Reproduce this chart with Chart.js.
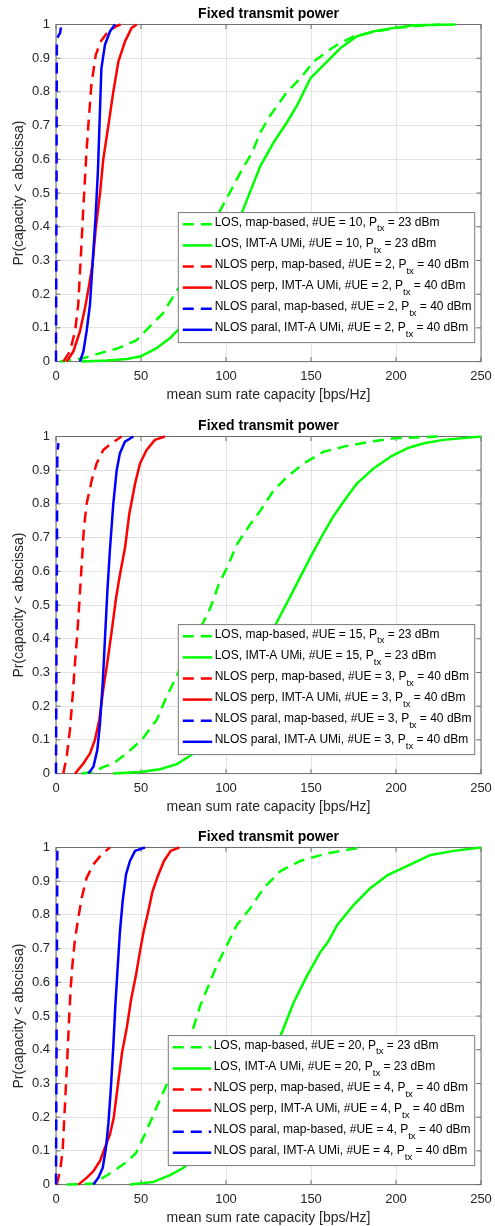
<!DOCTYPE html>
<html>
<head>
<meta charset="utf-8">
<script src="https://cdn.jsdelivr.net/npm/chart.js@4.4.0/dist/chart.umd.min.js"></script>
<style>
  body { margin: 0; overflow: hidden; background: #fff; }
  #wrap { position: relative; width: 495px; height: 1226px; }
  canvas { position: absolute; left: 0; }
</style>
</head>
<body>
<div id="wrap">
  <canvas id="g1" width="495" height="404" style="top:0px"></canvas>
  <canvas id="g2" width="495" height="404" style="top:412px"></canvas>
  <canvas id="g3" width="495" height="404" style="top:823px"></canvas>
</div>
<script>
// ejes
const xTicks = [0, 50, 100, 150, 200, 250];
const yTicks = [0, 0.1, 0.2, 0.3, 0.4, 0.5, 0.6, 0.7, 0.8, 0.9, 1];
const yTickLabels = ['0', '0.1', '0.2', '0.3', '0.4', '0.5', '0.6', '0.7', '0.8', '0.9', '1'];

// leyendas (P_{tx} -> subindice)
const legend1 = [
  'LOS, map-based, #UE = 10, P_{tx} = 23 dBm',
  'LOS, IMT-A UMi, #UE = 10, P_{tx} = 23 dBm',
  'NLOS perp, map-based, #UE = 2, P_{tx} = 40 dBm',
  'NLOS perp, IMT-A UMi, #UE = 2, P_{tx} = 40 dBm',
  'NLOS paral, map-based, #UE = 2, P_{tx} = 40 dBm',
  'NLOS paral, IMT-A UMi, #UE = 2, P_{tx} = 40 dBm'
];
const legend2 = [
  'LOS, map-based, #UE = 15, P_{tx} = 23 dBm',
  'LOS, IMT-A UMi, #UE = 15, P_{tx} = 23 dBm',
  'NLOS perp, map-based, #UE = 3, P_{tx} = 40 dBm',
  'NLOS perp, IMT-A UMi, #UE = 3, P_{tx} = 40 dBm',
  'NLOS paral, map-based, #UE = 3, P_{tx} = 40 dBm',
  'NLOS paral, IMT-A UMi, #UE = 3, P_{tx} = 40 dBm'
];
const legend3 = [
  'LOS, map-based, #UE = 20, P_{tx} = 23 dBm',
  'LOS, IMT-A UMi, #UE = 20, P_{tx} = 23 dBm',
  'NLOS perp, map-based, #UE = 4, P_{tx} = 40 dBm',
  'NLOS perp, IMT-A UMi, #UE = 4, P_{tx} = 40 dBm',
  'NLOS paral, map-based, #UE = 4, P_{tx} = 40 dBm',
  'NLOS paral, IMT-A UMi, #UE = 4, P_{tx} = 40 dBm'
];

// CDF, grafica 1: [capacidad, Pr]
const los10Map = [[2.4,0],[16,0.01],[26,0.025],[36.7,0.04],[47.5,0.064],[54.4,0.1],[63,0.144],[71,0.21],[80.9,0.27],[86.8,0.32],[94.6,0.43],[100.5,0.485],[108.4,0.56],[115.3,0.62],[120.2,0.68],[126,0.73],[135.9,0.8],[143.7,0.84],[151.6,0.89],[159.5,0.92],[165.4,0.94],[175.2,0.965],[188.9,0.98],[200.7,0.99],[218,0.998],[226,1]];
const los10Umi = [[15,0],[30,0.003],[41.6,0.008],[49.5,0.015],[59.3,0.04],[67.1,0.07],[73,0.1],[80.9,0.15],[90.7,0.23],[100.5,0.33],[108.4,0.43],[114.3,0.505],[120.2,0.58],[128,0.65],[135.9,0.71],[141.8,0.76],[149.6,0.84],[157.5,0.88],[167.3,0.93],[177.1,0.965],[187,0.98],[198.8,0.99],[210.5,0.998],[235,1]];
const perp2Map = [[4.3,0],[8.2,0.03],[11.2,0.09],[13.1,0.17],[14.8,0.33],[15.8,0.43],[16.8,0.52],[17.9,0.62],[19.3,0.72],[20.8,0.82],[23.4,0.91],[26.4,0.95],[30.8,0.98],[35.7,0.995],[38,1]];
const perp2Umi = [[6.3,0],[10.2,0.03],[14.1,0.09],[17.1,0.16],[19.6,0.23],[21.5,0.29],[23.3,0.39],[25.9,0.5],[27.8,0.6],[30.8,0.7],[33.7,0.8],[36.7,0.89],[40.6,0.95],[44.5,0.99],[47.5,1]];
const paral2Map = [[0,0],[0.3,0.5],[0.5,0.95],[1.2,0.965],[2.4,0.975],[3.2,1]];
const paral2Umi = [[14.1,0],[16.1,0.03],[18,0.09],[20,0.17],[21.5,0.29],[23.3,0.43],[24.7,0.57],[25.7,0.72],[26.7,0.87],[28.8,0.94],[31.8,0.98],[34.7,1]];

// grafica 2
const los15Map = [[15.1,0],[21.9,0.005],[28,0.02],[33.7,0.03],[41.6,0.06],[50.4,0.1],[59.3,0.16],[65.2,0.23],[71.1,0.29],[77.9,0.37],[84.8,0.43],[90.7,0.49],[95.6,0.56],[100.5,0.61],[106.4,0.68],[114.3,0.74],[120.2,0.78],[128,0.84],[135.9,0.88],[145.7,0.92],[157.5,0.955],[169.3,0.97],[185,0.985],[198.8,0.995],[226,1]];
const los15Umi = [[33.7,0],[49.5,0.005],[61.2,0.013],[71.1,0.028],[78.9,0.053],[90.7,0.097],[100.5,0.15],[112,0.24],[121,0.34],[129,0.44],[139.8,0.545],[150,0.645],[157,0.71],[163.4,0.765],[171.3,0.822],[177.1,0.861],[187,0.906],[196.8,0.94],[206.6,0.965],[216.4,0.98],[228,0.99],[250,1]];
const perp3Map = [[4.3,0],[6.3,0.05],[8.2,0.13],[9.8,0.23],[11.2,0.33],[12.6,0.42],[13.9,0.52],[15.1,0.62],[16.3,0.72],[18,0.8],[21,0.87],[23.9,0.92],[27.8,0.96],[32.7,0.98],[38.6,1]];
const perp3Umi = [[11.2,0],[16.1,0.03],[20,0.06],[22.9,0.1],[25.5,0.16],[27.8,0.25],[30.2,0.33],[32.7,0.42],[35.3,0.52],[37.6,0.59],[40.6,0.67],[43.1,0.77],[46.5,0.86],[49.4,0.92],[53.3,0.96],[58.2,0.99],[64.1,1]];
const paral3Map = [[0,0],[0.4,0.5],[0.8,0.95],[1.4,0.98]];
const paral3Umi = [[19,0],[22,0.02],[24.3,0.07],[25.9,0.15],[27.5,0.27],[28.8,0.4],[30.2,0.54],[31.8,0.67],[33.7,0.8],[35.7,0.9],[37.6,0.95],[40.6,0.985],[45.5,1]];

// grafica 3
const los20Map = [[6.3,0],[22,0.003],[30.8,0.03],[41.6,0.067],[47.1,0.094],[53.3,0.16],[59.2,0.23],[64.1,0.285],[72,0.37],[79.9,0.45],[84.8,0.53],[89.7,0.59],[94.6,0.65],[100.5,0.71],[106.4,0.77],[114.3,0.82],[122.2,0.88],[132,0.93],[143.7,0.96],[157.5,0.98],[173.2,0.995],[181,1]];
const los20Umi = [[43.5,0],[57.3,0.008],[67.1,0.028],[75,0.05],[85,0.1],[100,0.19],[115,0.3],[132,0.44],[139.8,0.54],[147.7,0.62],[155.5,0.69],[160,0.72],[165.4,0.77],[175.2,0.83],[185,0.88],[195,0.918],[208.6,0.95],[220.4,0.978],[234,0.99],[250,1]];
const perp4Map = [[0.4,0],[2.4,0.04],[3.9,0.1],[4.7,0.18],[5.7,0.28],[6.7,0.38],[7.6,0.48],[8.6,0.58],[9.8,0.66],[11.2,0.73],[13.1,0.79],[15.1,0.85],[18,0.91],[22,0.95],[26.9,0.98],[31.8,1]];
const perp4Umi = [[13.1,0],[18,0.02],[22,0.04],[25.9,0.07],[28.8,0.11],[31.8,0.15],[34,0.2],[36.5,0.3],[38.8,0.39],[41.8,0.47],[44.2,0.55],[47,0.62],[49,0.68],[51.5,0.75],[53.8,0.8],[56.8,0.87],[59.5,0.91],[63.5,0.96],[67.5,0.99],[72.5,1]];
const paral4Map = [[0,0],[0.4,0.5],[0.8,0.99]];
const paral4Umi = [[22,0],[24.9,0.02],[27.5,0.05],[29.4,0.11],[30.8,0.18],[32.2,0.28],[33.7,0.41],[34.9,0.53],[36.1,0.63],[37.6,0.75],[39.2,0.84],[41.2,0.92],[43.5,0.96],[46.5,0.99],[52.3,1]];

const FONT = '"Liberation Sans", Arial, sans-serif';
const TXT = '#262626';

// estilo de cada curva, en el orden de la leyenda
const estilos = [
  { color: '#00FF00', dash: [11, 7] },
  { color: '#00FF00', dash: [] },
  { color: '#FF0000', dash: [11, 7] },
  { color: '#FF0000', dash: [] },
  { color: '#0000FF', dash: [11, 7] },
  { color: '#0000FF', dash: [] }
];

// caja de ejes con marcas hacia adentro (estilo MATLAB)
const cajaEjes = {
  id: 'cajaEjes',
  beforeDatasetsDraw(chart) {
    const { ctx, chartArea: a, scales } = chart;
    const t = 4.5;
    ctx.save();
    ctx.strokeStyle = '#6e6e6e';
    ctx.lineWidth = 1;
    ctx.beginPath();
    xTicks.forEach(v => {
      const px = scales.x.getPixelForValue(v);
      ctx.moveTo(px, a.bottom); ctx.lineTo(px, a.bottom - t);
      ctx.moveTo(px, a.top); ctx.lineTo(px, a.top + t);
    });
    yTicks.forEach(v => {
      const py = scales.y.getPixelForValue(v);
      ctx.moveTo(a.left, py); ctx.lineTo(a.left + t, py);
      ctx.moveTo(a.right, py); ctx.lineTo(a.right - t, py);
    });
    ctx.stroke();
    ctx.strokeRect(a.left, a.top, a.right - a.left, a.bottom - a.top);
    ctx.restore();
  }
};

// leyenda dentro del area, con subindice en P_tx
const leyenda = {
  id: 'leyenda',
  afterDraw(chart, args, opts) {
    const { ctx, chartArea: a } = chart;
    const left = a.left + opts.left;
    const right = a.right - 6.3;
    const bottom = a.bottom - 19;
    const top = bottom - 130;
    ctx.save();
    ctx.fillStyle = '#fff';
    ctx.fillRect(left, top, right - left, bottom - top);
    ctx.strokeStyle = '#7a7a7a';
    ctx.lineWidth = 1;
    ctx.strokeRect(left, top, right - left, bottom - top);

    chart.data.datasets.forEach((ds, i) => {
      const y = top + 11.7 + i * 21.1;
      const x0 = left + 4.5;
      ctx.strokeStyle = ds.borderColor;
      ctx.lineWidth = ds.borderWidth;
      ctx.setLineDash(ds.borderDash);
      ctx.beginPath();
      ctx.moveTo(x0, y);
      ctx.lineTo(x0 + opts.muestra, y);
      ctx.stroke();
      ctx.setLineDash([]);

      const partes = ds.label.split('P_{tx}');
      let x = x0 + opts.muestra + 2.5;
      ctx.fillStyle = '#000';
      ctx.textBaseline = 'middle';
      ctx.textAlign = 'left';
      ctx.font = '12px ' + FONT;
      ctx.fillText(partes[0] + 'P', x, y - 2);
      x += ctx.measureText(partes[0] + 'P').width;
      ctx.font = '9.5px ' + FONT;
      ctx.fillText('tx', x, y + 4.5);
      x += ctx.measureText('tx').width;
      ctx.font = '12px ' + FONT;
      ctx.fillText(partes[1], x, y - 2);
    });
    ctx.restore();
  }
};

function dibujarCDF(id, curvas, etiquetas, legLeft, muestra) {
  const datasets = curvas.map((c, i) => ({
    label: etiquetas[i],
    data: c.map(([x, y]) => ({ x, y })),
    borderColor: estilos[i].color,
    borderDash: estilos[i].dash,
    borderWidth: 2.5,
    borderJoinStyle: 'round',
    pointRadius: 0,
    tension: 0,
    fill: false,
    clip: 4,
    order: curvas.length - i // la ultima curva queda arriba, como en MATLAB
  }));

  new Chart(document.getElementById(id), {
    type: 'line',
    data: { datasets },
    plugins: [cajaEjes, leyenda],
    options: {
      responsive: false,
      animation: false,
      events: [],
      layout: { padding: { left: 0, right: 14, top: 0, bottom: 0 } },
      plugins: {
        legend: { display: false },
        tooltip: { enabled: false },
        title: {
          display: true,
          fullSize: false, // centrado sobre el area de la grafica
          text: 'Fixed transmit power',
          color: '#000',
          font: { family: FONT, size: 14, weight: 'bold' },
          padding: { top: 5.6, bottom: 2.1 }
        },
        leyenda: { left: legLeft, muestra }
      },
      scales: {
        x: {
          type: 'linear',
          min: 0,
          max: 250,
          afterBuildTicks: s => { s.ticks = xTicks.map(v => ({ value: v })); },
          afterFit: s => { s.height = 42.4; s.paddingLeft = 0; s.paddingRight = 0; },
          ticks: { color: TXT, padding: 6.7, font: { family: FONT, size: 13 } },
          grid: { color: '#e3e3e3', drawTicks: false },
          border: { display: false },
          title: {
            display: true,
            text: 'mean sum rate capacity [bps/Hz]',
            color: TXT,
            font: { family: FONT, size: 14 },
            padding: { top: 0, bottom: 0 }
          }
        },
        y: {
          min: 0,
          max: 1,
          afterBuildTicks: s => { s.ticks = yTicks.map(v => ({ value: v })); },
          afterFit: s => { s.width = 56; s.paddingTop = 0; s.paddingBottom = 0; },
          ticks: {
            color: TXT,
            padding: 6,
            font: { family: FONT, size: 13 },
            callback: (v, i) => yTickLabels[i]
          },
          grid: { color: '#e3e3e3', drawTicks: false },
          border: { display: false },
          title: {
            display: true,
            text: 'Pr(capacity < abscissa)',
            color: TXT,
            font: { family: FONT, size: 14 },
            padding: { top: 10.6, bottom: 0 }
          }
        }
      }
    }
  });
}

dibujarCDF('g1', [los10Map, los10Umi, perp2Map, perp2Umi, paral2Map, paral2Umi], legend1, 122.3, 29.4);
dibujarCDF('g2', [los15Map, los15Umi, perp3Map, perp3Umi, paral3Map, paral3Umi], legend2, 122.3, 29.4);
dibujarCDF('g3', [los20Map, los20Umi, perp4Map, perp4Umi, paral4Map, paral4Umi], legend3, 112.3, 38.4);
</script>
</body>
</html>
